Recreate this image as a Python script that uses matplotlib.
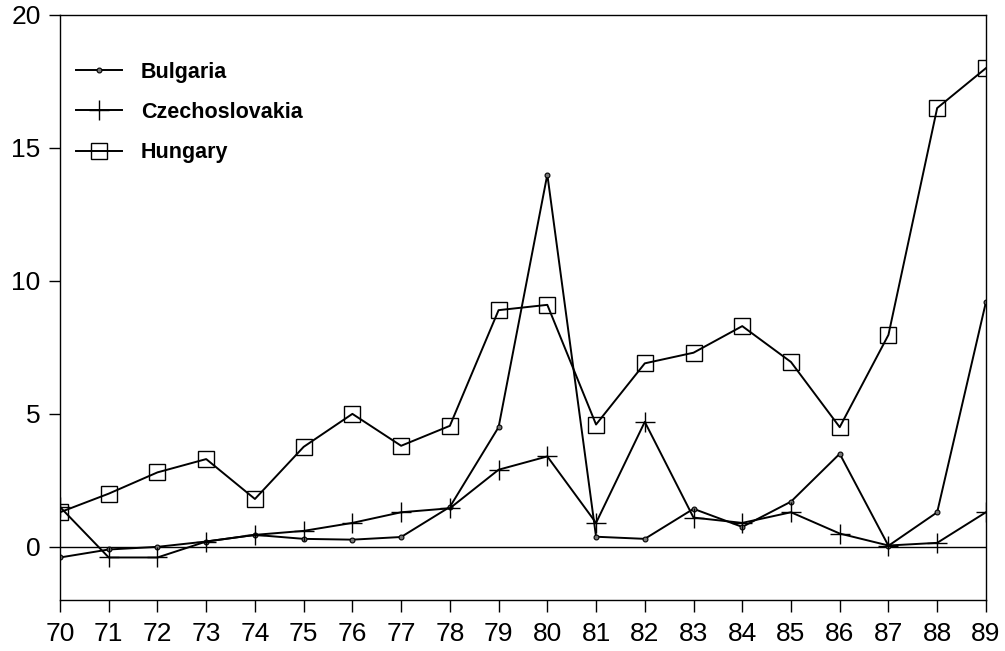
import numpy as np
import matplotlib
matplotlib.use('Agg')
import matplotlib.pyplot as plt

plt.rcParams['font.family'] = ['Liberation Sans', 'DejaVu Sans']

# years 1970-1989 (shown as two digits)
years = list(range(70, 90))
bulgaria = [-0.4, -0.1, 0.0, 0.2, 0.45, 0.3, 0.27, 0.37, 1.5, 4.5,
            14.0, 0.38, 0.3, 1.43, 0.75, 1.7, 3.5, 0.04, 1.3, 9.2]
czech = [1.5, -0.4, -0.4, 0.2, 0.45, 0.6, 0.9, 1.3, 1.45, 2.9,
         3.4, 0.9, 4.7, 1.1, 0.9, 1.3, 0.5, 0.05, 0.15, 1.3]
hungary = [1.3, 2.0, 2.8, 3.3, 1.8, 3.76, 5.0, 3.8, 4.55, 8.9,
           9.1, 4.6, 6.9, 7.3, 8.3, 6.95, 4.5, 7.97, 16.5, 18.0]

fig = plt.figure(figsize=(10.05, 6.51), dpi=100)
ax = fig.add_axes([0.0597, 0.0783, 0.9213, 0.8987])

ax.axhline(0, color='black', lw=1.0)
ax.plot(years, bulgaria, '-', color='black', lw=1.4, marker='o', markersize=3.5,
        markerfacecolor='#777777', markeredgewidth=0.8, label='Bulgaria')
ax.plot(years, czech, '-', color='black', lw=1.4, marker='+', markersize=14,
        markeredgewidth=1.0, label='Czechoslovakia')
ax.plot(years, hungary, '-', color='black', lw=1.4, marker='s', markersize=11,
        markerfacecolor='none', markeredgewidth=1.0, label='Hungary')

ax.set_xlim(70, 89)
ax.set_ylim(-2, 20)
ax.set_xticks(years)
ax.set_xticklabels([str(y) for y in years])
ax.set_yticks([0, 5, 10, 15, 20])
ax.tick_params(axis='x', direction='out', length=8.5, width=1, pad=7, labelsize=19)
ax.tick_params(axis='y', direction='out', length=8, width=1, pad=6, labelsize=19)
for s in ax.spines.values():
    s.set_linewidth(1.0)

leg = ax.legend(loc='upper left', frameon=False, prop={'size': 15.5, 'weight': 'bold'},
                handlelength=2.1, borderaxespad=0, labelspacing=0.9,
                handletextpad=0.9, bbox_to_anchor=(0.0085, 0.935))

fig.savefig('out.png', dpi=100)
